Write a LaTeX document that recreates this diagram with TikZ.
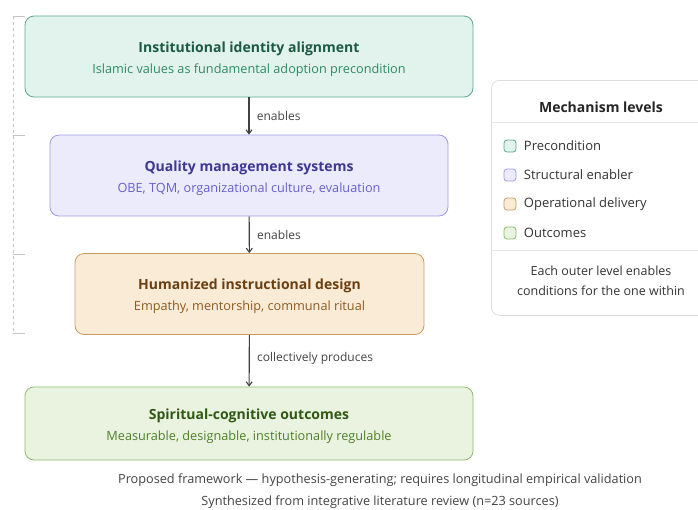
\documentclass[tikz,border=0pt]{standalone}
\usepackage{fontspec}
\setmainfont{Open Sans}
\usetikzlibrary{positioning, calc, arrows.meta}

\definecolor{precfill}{HTML}{E1F3EC}
\definecolor{precline}{HTML}{5EA98C}
\definecolor{prectitle}{HTML}{1D5A43}
\definecolor{precsub}{HTML}{2F8A66}
\definecolor{structfill}{HTML}{ECEBFC}
\definecolor{structline}{HTML}{A09BEA}
\definecolor{structtitle}{HTML}{3F3791}
\definecolor{structsub}{HTML}{6A5ECF}
\definecolor{opfill}{HTML}{FAEBD7}
\definecolor{opline}{HTML}{C99C62}
\definecolor{optitle}{HTML}{6A3F12}
\definecolor{opsub}{HTML}{8E5A1E}
\definecolor{outfill}{HTML}{EAF3E0}
\definecolor{outline}{HTML}{8EBB6C}
\definecolor{outtitle}{HTML}{2F5913}
\definecolor{outsub}{HTML}{4E8029}
\definecolor{textgray}{HTML}{444444}
\definecolor{rulegray}{HTML}{C4C4C4}

% title line carries a tall strut so the two lines sit a little low in the box
\newcommand{\leveltitle}[2]{{\fontsize{14}{17}\selectfont\bfseries\color{#1}\rule{0pt}{15.5pt}#2}}
\newcommand{\levelsub}[2]{{\fontsize{12.7}{15}\selectfont\color{#1}#2}}

\begin{document}
\begin{tikzpicture}[
    x=1pt, y=-1pt,
    level/.style={rectangle, draw, rounded corners=9pt, align=center, line width=0.8pt, minimum height=81pt},
    arrow/.style={-{Straight Barb[length=4pt, width=6pt]}, line width=1.1pt, draw=black!75},
    lbl/.style={font=\fontsize{12}{14}\selectfont, text=textgray, anchor=west},
    swatch/.style={rectangle, draw, rounded corners=3pt, minimum size=12pt, inner sep=0pt, line width=0.8pt},
    legtext/.style={font=\fontsize{13}{15}\selectfont, text=black!80, anchor=west}
]
\useasboundingbox (0,0) rectangle (698,509);

% Four levels, outer to inner
\node[level, fill=precfill, draw=precline, minimum width=448pt] (ident) at (249,56.5)
    {\leveltitle{prectitle}{Institutional identity alignment}\\[7pt]
     \levelsub{precsub}{Islamic values as fundamental adoption precondition}};
\node[level, fill=structfill, draw=structline, minimum width=398pt] (quality) at (249,175.5)
    {\leveltitle{structtitle}{Quality management systems}\\[7pt]
     \levelsub{structsub}{OBE, TQM, organizational culture, evaluation}};
\node[level, fill=opfill, draw=opline, minimum width=349pt] (design) at (249.5,294)
    {\leveltitle{optitle}{Humanized instructional design}\\[7pt]
     \levelsub{opsub}{Empathy, mentorship, communal ritual}};
\node[level, fill=outfill, draw=outline, minimum width=448pt, minimum height=73pt] (outcome) at (249,423.5)
    {\leveltitle{outtitle}{Spiritual-cognitive outcomes}\\[7pt]
     \levelsub{outsub}{Measurable, designable, institutionally regulable}};

\draw[arrow] (ident) -- node[lbl, xshift=4pt] {enables} (quality);
\draw[arrow] (quality) -- node[lbl, xshift=4pt] {enables} (design);
\draw[arrow] (design) -- node[lbl, xshift=4pt, yshift=2pt] {collectively produces} (outcome);

% nesting bracket on the left
\coordinate (btop) at (13,16);
\coordinate (bbot) at (13,333);
\draw[rulegray, dashed, line width=0.8pt] (btop) -- (bbot);
\foreach \yy in {16,135,254,333}
    \draw[rulegray, line width=0.8pt] (13,\yy) -- (25,\yy);

% Legend
\node[rectangle, draw=black!13, fill=white, rounded corners=8pt, line width=0.8pt,
      minimum width=220pt, minimum height=235pt, anchor=north west] (legend) at (491,80) {};
\node[font=\fontsize{14}{17}\selectfont\bfseries, text=black!85] (legtitle) at (601,107) {Mechanism levels};
\draw[black!10, line width=0.8pt] (491,122) -- (705,122);
\node[swatch, fill=precfill, draw=precline] (sw1) at (510,146) {};
\node[legtext, right=4pt of sw1] (lg1) {Precondition};
\node[swatch, fill=structfill, draw=structline] (sw2) at (510,175) {};
\node[legtext, right=4pt of sw2] (lg2) {Structural enabler};
\node[swatch, fill=opfill, draw=opline] (sw3) at (510,204) {};
\node[legtext, right=4pt of sw3] (lg3) {Operational delivery};
\node[swatch, fill=outfill, draw=outline] (sw4) at (510,233) {};
\node[legtext, right=4pt of sw4] (lg4) {Outcomes};
\draw[black!10, line width=0.8pt] (491,250) -- (705,250);
\node[font=\fontsize{12.5}{20}\selectfont, text=black!80, align=center] (legnote) at (601,281)
    {Each outer level enables\\conditions for the one within};

% Footnotes
\node[font=\fontsize{12.7}{15}\selectfont, text=textgray] (note1) at (380,480)
    {Proposed framework — hypothesis-generating; requires longitudinal empirical validation};
\node[font=\fontsize{12.7}{15}\selectfont, text=textgray] (note2) at (380,502)
    {Synthesized from integrative literature review (n=23 sources)};

\end{tikzpicture}
\end{document}
